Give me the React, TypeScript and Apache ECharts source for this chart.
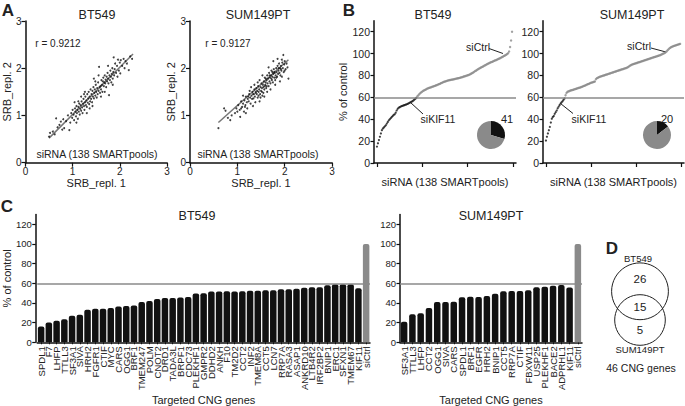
import React, { useEffect, useRef } from "react";
import * as echarts from "echarts";

const FONT = '"Liberation Sans", Arial, Helvetica, sans-serif';
const INK = "#111";
const GRAY = "#8a8a8a";

// ---------- Panel A : replicate scatter ----------
const bt549Scatter: number[][] = [
  [0.5, 0.55], [0.52, 0.63], [0.58, 0.66], [0.62, 0.6], [0.65, 0.94], [0.68, 0.75], [0.72, 0.8], [0.75, 0.87],
  [0.78, 0.7], [0.8, 0.92], [0.82, 0.73], [0.86, 0.88], [0.9, 1.0], [0.93, 0.69], [0.95, 0.85], [0.97, 1.05],
  [0.99, 0.95], [1.0, 1.12], [1.02, 1.02], [1.03, 0.9], [1.05, 1.15], [1.06, 1.08], [1.07, 0.98], [1.08, 1.2],
  [1.09, 1.05], [1.1, 1.12], [1.11, 0.93], [1.12, 1.18], [1.13, 1.08], [1.14, 1.25], [1.15, 1.02], [1.16, 1.14],
  [1.17, 1.22], [1.18, 1.1], [1.19, 1.3], [1.2, 1.17], [1.21, 1.05], [1.22, 1.25], [1.23, 1.35], [1.24, 1.2],
  [1.25, 1.12], [1.26, 1.28], [1.27, 1.4], [1.28, 1.22], [1.29, 1.32], [1.3, 1.18], [1.31, 1.45], [1.32, 1.27],
  [1.33, 1.36], [1.34, 1.5], [1.35, 1.24], [1.36, 1.4], [1.37, 1.3], [1.38, 1.55], [1.39, 1.35], [1.4, 1.45],
  [1.41, 1.28], [1.42, 1.52], [1.43, 1.4], [1.44, 1.6], [1.45, 1.36], [1.46, 1.48], [1.47, 1.55], [1.48, 1.42],
  [1.49, 1.65], [1.5, 1.5], [1.51, 1.38], [1.52, 1.58], [1.53, 1.45], [1.54, 1.7], [1.55, 1.52], [1.56, 2.03],
  [1.57, 1.6], [1.58, 1.48], [1.59, 1.62], [1.6, 1.55], [1.61, 1.75], [1.62, 1.65], [1.63, 1.5], [1.64, 1.72],
  [1.65, 1.8], [1.66, 1.62], [1.67, 1.7], [1.68, 1.85], [1.69, 1.68], [1.7, 1.76], [1.71, 1.6], [1.72, 1.82],
  [1.73, 1.72], [1.74, 1.9], [1.75, 1.78], [1.76, 1.68], [1.77, 1.43], [1.78, 1.85], [1.79, 1.75], [1.8, 1.95],
  [1.81, 1.82], [1.82, 1.7], [1.83, 1.88], [1.84, 2.0], [1.85, 1.78], [1.86, 1.92], [1.87, 2.23], [1.88, 1.85],
  [1.89, 1.98], [1.9, 2.1], [1.92, 1.9], [1.94, 2.05], [1.96, 2.18], [1.98, 1.95], [2.0, 2.12], [2.01, 1.89],
  [2.02, 2.17], [2.05, 2.05], [2.08, 2.2], [2.1, 2.0], [2.12, 2.15], [2.15, 2.1], [2.19, 1.96], [2.22, 2.25],
  [2.26, 2.2], [1.04, 1.28], [1.12, 1.3], [1.18, 1.4], [1.24, 1.45], [1.3, 1.05], [1.36, 1.15], [1.42, 1.2],
  [1.48, 1.72], [1.55, 1.85], [1.6, 1.4], [1.68, 1.5], [1.75, 2.05], [1.85, 1.65], [1.95, 1.82], [1.08, 0.85],
  [1.26, 1.5], [1.45, 1.78],
];
const sum149Scatter: number[][] = [
  [0.6, 0.73], [0.72, 1.15], [0.75, 1.1], [0.8, 0.95], [0.85, 0.9], [0.88, 1.0], [0.95, 1.05], [1.0, 1.08],
  [1.02, 1.22], [1.05, 1.12], [1.06, 0.97], [1.08, 1.3], [1.1, 1.18], [1.12, 1.25], [1.14, 1.08], [1.15, 1.32],
  [1.17, 1.22], [1.18, 1.4], [1.2, 1.28], [1.21, 1.15], [1.22, 1.35], [1.24, 1.3], [1.25, 1.45], [1.27, 1.38],
  [1.28, 1.25], [1.3, 1.42], [1.31, 1.35], [1.32, 1.5], [1.34, 1.36], [1.35, 1.45], [1.36, 1.55], [1.37, 1.4],
  [1.38, 1.28], [1.39, 1.48], [1.4, 1.58], [1.41, 1.45], [1.42, 1.52], [1.43, 1.38], [1.44, 1.62], [1.45, 1.5],
  [1.46, 1.55], [1.47, 1.75], [1.48, 1.45], [1.49, 1.6], [1.5, 1.52], [1.51, 1.68], [1.52, 1.58], [1.53, 1.42],
  [1.54, 1.65], [1.55, 1.6], [1.56, 1.72], [1.57, 1.55], [1.58, 1.8], [1.59, 1.65], [1.6, 1.7], [1.61, 1.58],
  [1.62, 1.75], [1.63, 1.85], [1.64, 1.68], [1.65, 1.78], [1.66, 1.62], [1.67, 1.9], [1.68, 1.72], [1.69, 1.8],
  [1.7, 1.68], [1.71, 1.85], [1.72, 1.95], [1.73, 1.75], [1.74, 1.82], [1.75, 1.7], [1.76, 1.88], [1.77, 1.98],
  [1.78, 1.8], [1.79, 1.9], [1.8, 1.75], [1.81, 1.85], [1.82, 2.0], [1.83, 1.92], [1.84, 1.82], [1.85, 2.05],
  [1.86, 1.88], [1.87, 1.95], [1.88, 2.1], [1.89, 1.9], [1.9, 2.0], [1.91, 1.85], [1.92, 2.05], [1.93, 1.95],
  [1.94, 1.82], [1.95, 2.12], [1.96, 2.0], [1.97, 2.28], [1.98, 1.92], [1.99, 2.08], [2.0, 2.15], [2.02, 1.98],
  [2.04, 2.1], [2.06, 2.02], [2.08, 1.78], [1.29, 1.6], [1.33, 1.2], [1.43, 1.7], [1.47, 1.3], [1.53, 1.85],
  [1.57, 1.4], [1.63, 1.5], [1.66, 2.02], [1.7, 1.55], [1.76, 2.15], [1.8, 1.65], [1.85, 2.2], [1.9, 1.72],
  [1.26, 1.52], [1.18, 1.05], [1.12, 1.42], [1.36, 1.65], [1.49, 1.38], [1.58, 1.62], [1.62, 1.62], [1.68, 1.85],
  [1.72, 1.78], [1.78, 1.92], [1.82, 1.8], [1.87, 2.0], [1.92, 1.98], [1.74, 1.92], [1.52, 1.5], [1.45, 1.42],
  [1.39, 1.5], [1.33, 1.45], [1.23, 1.4], [1.16, 1.18], [1.08, 1.15], [0.98, 1.15], [1.94, 2.18], [2.0, 1.95],
  [1.6, 1.78], [1.55, 1.48],
];
const bt549Fit: number[][] = [[0.5, 0.52], [2.28, 2.3]];
const sum149Fit: number[][] = [[0.6, 0.85], [2.08, 2.18]];
const bt549R = "r = 0.9212";
const sum149R = "r = 0.9127";

// ---------- Panel B : ranked screen ----------
const bt549Ranked: number[] = [
  15, 18, 21, 24, 27, 30, 31.5, 32.5, 33.5, 34.5, 36, 37.5, 39, 40, 41, 42, 43, 44, 44.5, 46,
  48, 49.5, 50.5, 51, 51.5, 52, 52.3, 52.6, 53, 53.3, 53.6, 54, 54.5, 55, 55.5, 56, 56.5, 57.2, 58, 58.8,
  59.6, 61, 62, 63, 64, 64.7, 65.3, 66, 66.5, 67, 67.5, 68, 68.3, 68.7, 69, 69.3, 69.7, 70, 70.3, 70.6,
  71, 71.3, 71.7, 72.1, 72.5, 73, 73.4, 73.8, 74.2, 74.5, 74.8, 75.1, 75.4, 75.6, 75.8, 76, 76.2, 76.4, 76.6, 76.8,
  77, 77.2, 77.4, 77.6, 77.8, 78.1, 78.4, 78.7, 79, 79.3, 79.6, 79.9, 80.2, 80.5, 80.9, 81.4, 81.9, 82.4, 83, 83.6,
  84.2, 84.8, 85.4, 86, 86.5, 87, 87.5, 88, 88.5, 89, 89.5, 90, 90.5, 91, 91.4, 91.8, 92.2, 92.6, 93, 93.4,
  93.8, 94.2, 94.6, 95, 95.4, 95.9, 96.4, 96.9, 97.4, 97.9, 98.4, 99, 99.6, 100.3, 102, 106, 112, 120,
];
const sum149Ranked: number[] = [
  20.5, 24, 27, 30, 33, 37, 40.5, 42, 43, 45, 46.5, 48, 50, 51.5, 53, 54.5, 55.5, 56.5, 57.8, 59,
  62, 64, 65, 65.5, 65.9, 66.2, 66.5, 66.8, 67, 67.3, 67.6, 67.9, 68.2, 68.5, 68.8, 69.1, 69.4, 69.7, 70.1, 70.5,
  70.9, 71.3, 71.7, 72.1, 72.5, 72.9, 73.3, 73.6, 73.9, 74.2, 74.5, 76.5, 77.5, 78, 78.4, 78.8, 79.1, 79.4, 79.7, 80,
  80.3, 80.6, 80.9, 81.2, 81.5, 81.8, 82.1, 82.4, 82.7, 83, 83.3, 83.6, 83.9, 84.2, 84.5, 84.8, 85.1, 85.4, 85.7, 86,
  86.3, 86.6, 86.9, 87.3, 87.8, 88.4, 89, 89.6, 90, 90.3, 90.6, 90.9, 91.2, 91.5, 91.8, 92.1, 92.4, 92.7, 93, 93.3,
  93.6, 93.9, 94.2, 94.5, 94.8, 95.1, 95.4, 95.7, 96, 96.3, 96.6, 96.9, 97.2, 97.5, 97.8, 98.1, 98.4, 98.8, 99.2, 99.6,
  100, 100.5, 101, 101.8, 102.8, 103.8, 104.6, 105.3, 105.9, 106.4, 106.8, 107.1, 107.4, 107.7, 108, 108.3, 108.6, 108.9,
];
const rankTicks = [0, 46, 92, 138];
const percentTicks = [0, 20, 40, 60, 80, 100, 120];
const cutoff = 60;
const bt549Pie = [41, 97];
const sum149Pie = [20, 118];

// ---------- Panel C : hits ----------
const bt549Genes = [
  "SPDL1", "F7", "LHFP", "TTLL3", "SF3A1", "SIVA", "HRH2", "FGFR1", "CTIF", "MYC", "CARS", "OGG1", "BRF1",
  "TMEM247", "POLM", "CNOT2", "DRD1", "TADA3L", "BRPF1", "CDC73", "PLEKHF1", "GMPR2", "DDHD2", "ANKH", "F10",
  "TM2D2", "CCT2", "INF2", "TMEM8A", "CCT5", "LCN7", "RRP7A", "RASA3", "ASAP1", "ANKRD10", "LTB4R2", "IRF2BP2",
  "BNIP1", "ERC1", "SFXN1", "TMEM67", "KIF11", "siCtrl",
];
const bt549Values = [
  16, 20, 22, 23.5, 27, 28, 33, 34, 34, 35, 36.5, 37, 37.5, 41, 42, 44, 45, 45, 45.5, 46, 49.6, 50, 51.6, 51.6,
  51.8, 51.6, 52, 52.5, 52.5, 53, 53, 54, 54, 54.5, 55.5, 56, 56, 58, 59, 59, 59, 55, 100,
];
const sum149Genes = [
  "SF3A1", "TTLL3", "LHFP", "CCT2", "OGG1", "SIVA", "CARS", "SPDL1", "BRF1", "EGFR", "HRH2", "BNIP1", "CCT5",
  "RRP7A", "CTIF", "FBXW11", "USP25", "PLEKHF1", "BACE2", "ADPRHL1", "KIF11", "siCtrl",
];
const sum149Values = [
  21, 28.5, 29.5, 35, 41, 41, 41.2, 45.7, 46.4, 46, 47, 49.3, 52, 52.2, 52.2, 52.9, 56, 56.4, 57.4, 58.4, 55.8, 100,
];

// ---------- Panel D : Venn ----------
const vennNumbers = ["26", "15", "5"];
const vennSets = ["BT549", "SUM149PT"];
const vennTotal = "46 CNG genes";

function axisLine() {
  return { show: true, onZero: false, lineStyle: { color: INK, width: 1.5 } };
}
function tick(len = 4, customValues?: number[]) {
  const t: any = { show: true, length: len, inside: false, lineStyle: { color: INK, width: 1.2 } };
  if (customValues) t.customValues = customValues;
  return t;
}
function lbl(size: number, extra: any = {}) {
  return { color: "#222", fontSize: size, fontFamily: FONT, ...extra };
}
function nameStyle(size: number) {
  return { color: "#222", fontSize: size, fontFamily: FONT };
}

function text(x: number, y: number, s: string, size: number, weight = "normal", align = "center") {
  return {
    type: "text",
    x,
    y,
    silent: true,
    style: {
      text: s,
      fill: "#222",
      fontSize: size,
      fontFamily: FONT,
      fontWeight: weight,
      align,
      verticalAlign: "middle",
      textAlign: align,
      textVerticalAlign: "middle",
    },
  };
}
function seg(x1: number, y1: number, x2: number, y2: number) {
  return { type: "line", silent: true, shape: { x1, y1, x2, y2 }, style: { stroke: "#222", lineWidth: 1 } };
}

function buildOption() {
  const grids = [
    { left: 24, top: 21, width: 143, height: 141.7 },
    { left: 190, top: 21, width: 142, height: 141.7 },
    { left: 374, top: 20.8, width: 142, height: 142.2 },
    { left: 543, top: 20.8, width: 141, height: 142.2 },
    { left: 32.5, top: 214.5, width: 337.5, height: 133.5 },
    { left: 400, top: 214.5, width: 182, height: 133.5 },
  ];

  const scatterX = (gi: number) => ({
    type: "value", gridIndex: gi, min: 0, max: 3, interval: 1,
    axisLine: axisLine(), axisTick: tick(4), splitLine: { show: false },
    axisLabel: lbl(10, { margin: 4 }),
    name: "SRB_repl. 1", nameLocation: "middle", nameGap: 15, nameTextStyle: nameStyle(11),
  });
  const scatterY = (gi: number, gap: number) => ({
    type: "value", gridIndex: gi, min: 0, max: 3, interval: 1,
    axisLine: axisLine(), axisTick: tick(4), splitLine: { show: false },
    axisLabel: lbl(10, { margin: 4 }),
    name: "SRB_repl. 2", nameLocation: "middle", nameGap: gap, nameTextStyle: nameStyle(11),
  });
  const rankX = (gi: number) => ({
    type: "value", gridIndex: gi, min: -3, max: 141,
    axisLine: axisLine(), axisTick: tick(4, rankTicks), splitLine: { show: false },
    axisLabel: { show: false },
    name: "siRNA (138 SMARTpools)", nameLocation: "middle", nameGap: 13, nameTextStyle: nameStyle(11),
  });
  const pctY = (gi: number, size: number, name: string, gap: number, offset = 0) => ({
    type: "value", gridIndex: gi, min: 0, max: 130, offset,
    axisLine: axisLine(), axisTick: tick(3.5, percentTicks), splitLine: { show: false },
    axisLabel: lbl(size, { margin: 4, customValues: percentTicks }),
    name, nameLocation: "middle", nameGap: gap, nameTextStyle: nameStyle(11),
  });
  const catX = (gi: number, data: string[]) => ({
    type: "category", gridIndex: gi, data,
    axisLine: axisLine(), axisTick: { show: true, length: 2, alignWithLabel: true, lineStyle: { color: INK } },
    axisLabel: lbl(9.5, { rotate: 90, interval: 0, margin: 4 }),
    name: "Targeted CNG genes", nameLocation: "middle", nameGap: 45, nameTextStyle: nameStyle(11),
  });

  const cutLine = {
    silent: true, symbol: "none", label: { show: false },
    lineStyle: { color: GRAY, width: 1.5, type: "solid" },
    data: [{ yAxis: cutoff }],
  };

  const rankSeries = (values: number[], ai: number) => {
    const pts = values.map((v, i) => [i, v]);
    return [
      {
        type: "scatter", xAxisIndex: ai, yAxisIndex: ai, symbolSize: 2.2,
        itemStyle: { color: INK }, data: pts.filter((p) => p[1] < cutoff), markLine: cutLine, z: 3,
      },
      {
        type: "scatter", xAxisIndex: ai, yAxisIndex: ai, symbolSize: 2.4,
        itemStyle: { color: GRAY }, data: pts.filter((p) => p[1] >= cutoff), z: 3,
      },
    ];
  };

  const barSeries = (genes: string[], values: number[], ai: number) => ({
    type: "bar", xAxisIndex: ai, yAxisIndex: ai, barWidth: 6.5,
    itemStyle: { color: INK, borderRadius: [2, 2, 0, 0] },
    data: values.map((v, i) => (genes[i] === "siCtrl" ? { value: v, itemStyle: { color: GRAY } } : v)),
    markLine: cutLine,
  });

  const pie = (vals: number[], cx: number) => ({
    type: "pie", center: [cx, 135], radius: 14, startAngle: 90, clockwise: true, silent: true,
    label: { show: false }, labelLine: { show: false },
    data: [
      { value: vals[0], itemStyle: { color: INK } },
      { value: vals[1], itemStyle: { color: GRAY } },
    ],
  });

  return {
    animation: false,
    backgroundColor: "#fff",
    textStyle: { fontFamily: FONT },
    grid: grids,
    xAxis: [scatterX(0), scatterX(1), rankX(2), rankX(3), catX(4, bt549Genes), catX(5, sum149Genes)],
    yAxis: [
      scatterY(0, 11),
      scatterY(1, 10),
      pctY(2, 10.5, "% of control", 20),
      pctY(3, 10.5, "", 20),
      pctY(4, 9.5, "% of control", 20, 1.5),
      pctY(5, 9.5, "", 20),
    ],
    series: [
      { type: "scatter", xAxisIndex: 0, yAxisIndex: 0, symbolSize: 2, itemStyle: { color: INK }, data: bt549Scatter },
      { type: "line", xAxisIndex: 0, yAxisIndex: 0, symbol: "none", lineStyle: { color: "#777", width: 1.5 }, data: bt549Fit, z: 1 },
      { type: "scatter", xAxisIndex: 1, yAxisIndex: 1, symbolSize: 2, itemStyle: { color: INK }, data: sum149Scatter },
      { type: "line", xAxisIndex: 1, yAxisIndex: 1, symbol: "none", lineStyle: { color: "#777", width: 1.5 }, data: sum149Fit, z: 1 },
      ...rankSeries(bt549Ranked, 2),
      ...rankSeries(sum149Ranked, 3),
      barSeries(bt549Genes, bt549Values, 4),
      barSeries(sum149Genes, sum149Values, 5),
      pie(bt549Pie, 491),
      pie(sum149Pie, 657),
    ],
    graphic: [
      text(8, 10, "A", 17, "bold"),
      text(349, 10, "B", 17, "bold"),
      text(7, 206, "C", 17, "bold"),
      text(612, 248, "D", 17, "bold"),
      text(97, 15, "BT549", 12.5),
      text(258, 15, "SUM149PT", 12.5),
      text(433, 15, "BT549", 12.5),
      text(632, 15, "SUM149PT", 12.5),
      text(197, 216, "BT549", 12.5),
      text(491, 216, "SUM149PT", 12.5),
      text(58, 43, bt549R, 10),
      text(228, 43, sum149R, 10),
      text(97, 154, "siRNA (138 SMARTpools)", 10.5),
      text(258, 154, "siRNA (138 SMARTpools)", 10.5),
      text(478, 47, "siCtrl", 10.5),
      seg(489, 48.5, 503, 53.5),
      text(438, 119, "siKIF11", 10.5),
      seg(410.5, 102.5, 423, 114),
      text(639, 46, "siCtrl", 10.5),
      seg(651, 48, 666, 52),
      text(589, 118.5, "siKIF11", 10.5),
      seg(560.5, 103.5, 573, 113.5),
      text(507, 119, String(bt549Pie[0]), 11),
      text(667, 119, String(sum149Pie[0]), 11),
      { type: "circle", silent: true, shape: { cx: 640, cy: 291.3, r: 28.4 }, style: { fill: "none", stroke: "#222", lineWidth: 1 } },
      { type: "circle", silent: true, shape: { cx: 640, cy: 320, r: 25.3 }, style: { fill: "none", stroke: "#222", lineWidth: 1 } },
      text(638, 258, vennSets[0], 9.5),
      text(640, 278.5, vennNumbers[0], 11.5),
      text(640, 307, vennNumbers[1], 11.5),
      text(640, 330, vennNumbers[2], 11.5),
      text(640, 349, vennSets[1], 9.5),
      text(641, 368, vennTotal, 10.5),
    ],
  };
}

export default function App() {
  const ref = useRef<HTMLDivElement>(null);
  useEffect(() => {
    if (!ref.current) return;
    const chart = echarts.init(ref.current, null, { renderer: "svg" });
    chart.setOption(buildOption() as any);
    return () => chart.dispose();
  }, []);
  return (
    <div
      ref={ref}
      style={{ position: "absolute", left: 0, top: 0, width: 685, height: 406, background: "#fff" }}
    />
  );
}
